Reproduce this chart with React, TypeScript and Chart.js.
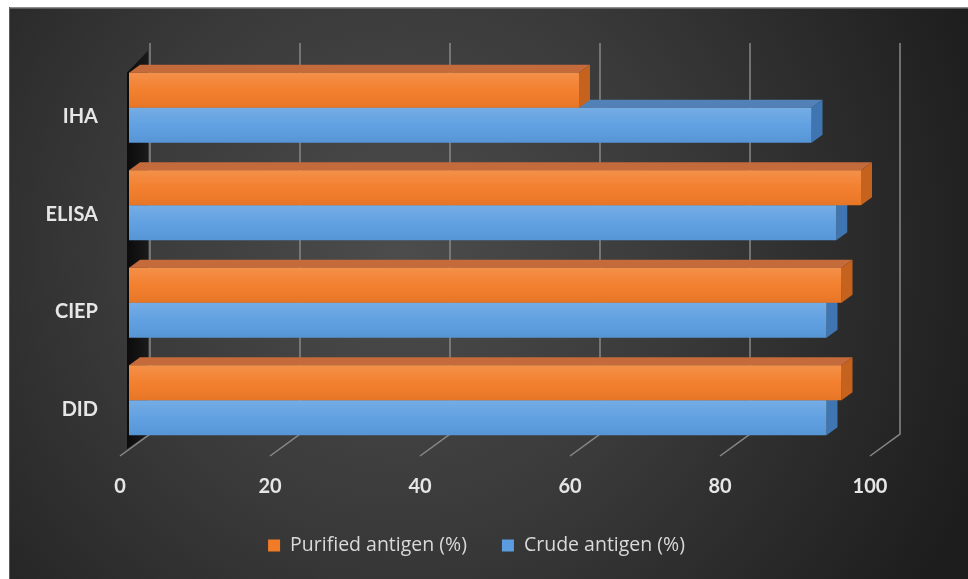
import { useEffect, useRef } from "react";
import { Chart, registerables } from "chart.js";

Chart.register(...registerables);

// Detection rate of each assay, by antigen preparation
const categories = ["IHA", "ELISA", "CIEP", "DID"];
const purifiedAntigen = [60, 97.6, 95, 95];
const crudeAntigen = [91, 94.3, 93, 93];
const seriesNames = ["Purified antigen (%)", "Crude antigen (%)"];
const axisMin = 0;
const axisMax = 100;
const axisStep = 20;

const ORANGE = "#f27b27";
const BLUE = "#5b9de0";
const FACE_COLORS = [
  { top: "#c56a3b", side: "#c5621e" },
  { top: "#5281b8", side: "#3f76b1" },
];
const FONT = "Lato, 'Open Sans', sans-serif";
const LEGEND_FONT = "19.5px 'Open Sans', Lato, sans-serif";

// oblique projection offsets (pixels) relative to the bar front plane
const BAR_DEPTH = { dx: 11, dy: -8 };
const BACK = { dx: 21, dy: -15 };
const FRONT = { dx: -9, dy: 7 };

type Pt = [number, number];

function poly(ctx: CanvasRenderingContext2D, pts: Pt[], fill: string | CanvasGradient) {
  ctx.beginPath();
  ctx.moveTo(pts[0][0], pts[0][1]);
  for (let i = 1; i < pts.length; i++) ctx.lineTo(pts[i][0], pts[i][1]);
  ctx.closePath();
  ctx.fillStyle = fill;
  ctx.fill();
}

function barBox(bar: any) {
  const p = bar.getProps(["x", "y", "base", "height"], true);
  const left = Math.min(p.x, p.base);
  const right = Math.max(p.x, p.base);
  const top = p.y - p.height / 2;
  const bottom = p.y + p.height / 2;
  return { left, right, top, bottom };
}

const scene3d = {
  id: "scene3d",
  beforeDraw(chart: any) {
    const { ctx, width, height } = chart;
    ctx.save();
    ctx.fillStyle = "#ffffff";
    ctx.fillRect(0, 0, width, height);
    const fx = 9;
    const fy = 7;
    const g = ctx.createRadialGradient(400, 250, 0, 400, 250, 620);
    g.addColorStop(0, "#4c4c4c");
    g.addColorStop(0.45, "#3a3a3a");
    g.addColorStop(1, "#1d1d1d");
    ctx.fillStyle = g;
    ctx.fillRect(fx, fy, width - fx, height - fy);
    ctx.fillStyle = "#8e8e8e";
    ctx.fillRect(fx, fy, width - fx, 1.5);
    ctx.fillStyle = "#5c5c5c";
    ctx.fillRect(fx, fy, 1, height - fy);
    ctx.restore();
  },
  beforeDatasetsDraw(chart: any) {
    const { ctx, chartArea: a, scales } = chart;
    const xs = scales.x;
    ctx.save();

    // back-wall gridlines running down into the floor
    ctx.strokeStyle = "#888888";
    ctx.lineWidth = 1.5;
    xs.ticks.forEach((t: any) => {
      const px = xs.getPixelForValue(t.value);
      ctx.beginPath();
      ctx.moveTo(px + BACK.dx, a.top + BACK.dy - 1);
      ctx.lineTo(px + BACK.dx, a.bottom + BACK.dy);
      ctx.lineTo(px + FRONT.dx, a.bottom + FRONT.dy);
      ctx.stroke();
    });

    // left side wall
    const firstTop = barBox(chart.getDatasetMeta(0).data[0]).top;
    const wl = a.left - 2;
    const wr = a.left + BACK.dx - 2;
    const wg = ctx.createLinearGradient(wl, 0, wr, 0);
    wg.addColorStop(0, "#0b0b0b");
    wg.addColorStop(1, "#1a1a1a");
    poly(
      ctx,
      [
        [wl, firstTop],
        [wr, firstTop - 22],
        [wr, a.bottom + BACK.dy],
        [wl, a.bottom],
      ],
      wg
    );

    // top and side faces of the bars, back series first
    for (let di = chart.data.datasets.length - 1; di >= 0; di--) {
      const meta = chart.getDatasetMeta(di);
      const c = FACE_COLORS[di];
      meta.data.forEach((bar: any) => {
        const b = barBox(bar);
        const { dx, dy } = BAR_DEPTH;
        poly(
          ctx,
          [
            [b.left, b.top],
            [b.left + dx, b.top + dy],
            [b.right + dx, b.top + dy],
            [b.right, b.top],
          ],
          c.top
        );
        poly(
          ctx,
          [
            [b.right, b.top],
            [b.right + dx, b.top + dy],
            [b.right + dx, b.bottom + dy],
            [b.right, b.bottom],
          ],
          c.side
        );
      });
    }
    ctx.restore();
  },
  afterDatasetsDraw(chart: any) {
    const { ctx } = chart;
    ctx.save();
    chart.data.datasets.forEach((_: any, di: number) => {
      chart.getDatasetMeta(di).data.forEach((bar: any) => {
        const b = barBox(bar);
        const g = ctx.createLinearGradient(0, b.top, 0, b.bottom);
        g.addColorStop(0, "rgba(255,255,255,0.16)");
        g.addColorStop(0.5, "rgba(255,255,255,0.04)");
        g.addColorStop(1, "rgba(0,0,0,0.05)");
        ctx.fillStyle = g;
        ctx.fillRect(b.left, b.top, b.right - b.left, b.bottom - b.top);
      });
    });
    ctx.restore();
  },
  afterDraw(chart: any) {
    // series key centred under the plot
    const { ctx } = chart;
    const box = 12;
    const gap = 10;
    const spacing = 35;
    const centerX = 476.5;
    const cy = 545.5;
    ctx.save();
    ctx.font = LEGEND_FONT;
    const items = chart.data.datasets.map((ds: any) => ({
      text: ds.label as string,
      color: ds.backgroundColor as string,
      w: ctx.measureText(ds.label).width,
    }));
    const total =
      items.reduce((s: number, it: any) => s + box + gap + it.w, 0) + spacing * (items.length - 1);
    let x = centerX - total / 2;
    ctx.textBaseline = "middle";
    ctx.textAlign = "left";
    items.forEach((it: any) => {
      ctx.fillStyle = it.color;
      ctx.fillRect(x, cy - box / 2, box, box);
      ctx.fillStyle = "#d9d9d9";
      ctx.fillText(it.text, x + box + gap, cy);
      x += box + gap + it.w + spacing;
    });
    ctx.restore();
  },
};

export default function App() {
  const ref = useRef<HTMLCanvasElement | null>(null);

  useEffect(() => {
    if (!ref.current) return;
    const chart = new Chart(ref.current, {
      type: "bar",
      data: {
        labels: categories,
        datasets: [
          {
            label: seriesNames[0],
            data: purifiedAntigen,
            backgroundColor: ORANGE,
            borderWidth: 0,
          },
          {
            label: seriesNames[1],
            data: crudeAntigen,
            backgroundColor: BLUE,
            borderWidth: 0,
          },
        ],
      },
      options: {
        indexAxis: "y",
        responsive: false,
        animation: false,
        events: [],
        categoryPercentage: 0.72,
        barPercentage: 1,
        layout: { padding: { left: 0, right: 89, top: 59, bottom: 0 } },
        scales: {
          x: {
            min: axisMin,
            max: axisMax,
            grid: { display: false, drawTicks: false },
            border: { display: false },
            ticks: {
              stepSize: axisStep,
              color: "#e6e6e6",
              font: { family: FONT, size: 20, weight: "bold" },
              padding: 26,
              labelOffset: -9,
              maxRotation: 0,
            },
            afterFit: (s: any) => {
              s.height = 130;
            },
          },
          y: {
            grid: { display: false, drawTicks: false },
            border: { display: false },
            ticks: {
              color: "#e6e6e6",
              font: { family: FONT, size: 20, weight: "bold" },
              padding: 31,
              labelOffset: 9,
            },
            afterFit: (s: any) => {
              s.width = 129;
            },
          },
        },
        plugins: {
          legend: { display: false },
          tooltip: { enabled: false },
        },
      },
      plugins: [scene3d],
    } as any);
    return () => chart.destroy();
  }, []);

  return (
    <div style={{ position: "fixed", left: 0, top: 0, width: 968, height: 579 }}>
      <canvas ref={ref} width={968} height={579} style={{ display: "block" }} />
    </div>
  );
}
